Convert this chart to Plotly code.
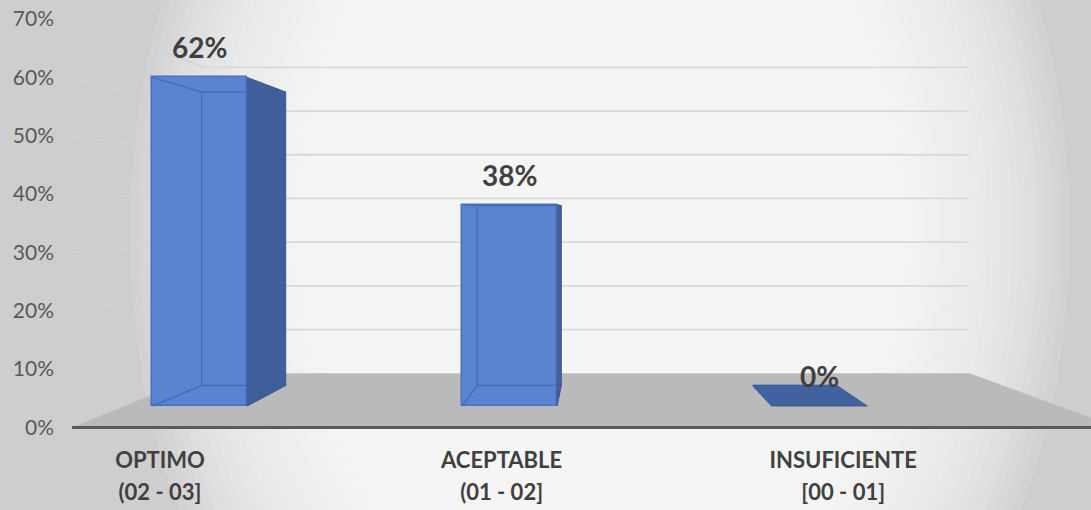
import plotly.graph_objects as go

# ---------------- data ----------------
CATEGORY_NAMES = ["OPTIMO", "ACEPTABLE", "INSUFICIENTE"]
CATEGORY_RANGES = ["(02 - 03]", "(01 - 02]", "[00 - 01]"]
VALUES = [0.62, 0.38, 0.00]
Y_TICKS = [0.0, 0.1, 0.2, 0.3, 0.4, 0.5, 0.6, 0.7]

# ---------------- layout / perspective constants (pixels) ----------------
W, H = 1091, 510
EDGE = dict(y0=427.5, s=583.6, xl=72.0, xr=1118.0)      # floor front edge plane (tick plane)
WALL = dict(y0=373.3, s=437.1, xl=205.0, xr=969.3)      # back wall plane
BF = dict(y0=406.0, s=530.0, c0=199.7, dc=310.0, hw=47.5)  # bar front faces
BB = dict(y0=385.5, s=473.4, c0=243.7, dc=275.6, hw=42.0)  # bar back faces
LBL = dict(c0=160.0, dc=341.6)                            # category labels on front edge

FONT = "Lato"
TXT = "#404040"
FRONT_COL = "#5b83d0"
SIDE_COL = "#3f5f9b"
EDGE_COL = "rgba(62,104,190,0.85)"


def xd(px):
    return (px - BF["c0"]) / BF["dc"]


def yd(py):
    return (BF["y0"] - py) / BF["s"]


def corner(plane, i, side, v):
    return (plane["c0"] + plane["dc"] * i + side * plane["hw"], plane["y0"] - plane["s"] * v)


def path(points):
    return "M " + " L ".join(f"{xd(x):.5f},{yd(y):.5f}" for x, y in points) + " Z"


def line(p, q, color, width, layer="above"):
    return dict(type="line", xref="x", yref="y", x0=xd(p[0]), y0=yd(p[1]),
                x1=xd(q[0]), y1=yd(q[1]), line=dict(color=color, width=width), layer=layer)


shapes = []

# background radial-ish gradient (stacked translucent ellipses)
CX, CY = 600.0, 230.0
N = 40
for k in range(N):
    rx = 470.0 - (470.0 - 150.0) * k / (N - 1)
    ry = rx * 1.35
    shapes.append(dict(type="circle", xref="paper", yref="paper",
                       x0=(CX - rx) / W, x1=(CX + rx) / W,
                       y0=1 - (CY + ry) / H, y1=1 - (CY - ry) / H,
                       fillcolor="rgba(255,255,255,0.085)", line=dict(width=0), layer="below"))

# floor
floor_pts = [(EDGE["xl"], EDGE["y0"]), (EDGE["xr"], EDGE["y0"]),
             (WALL["xr"], WALL["y0"]), (WALL["xl"], WALL["y0"])]
shapes.append(dict(type="path", xref="x", yref="y", path=path(floor_pts),
                   fillcolor="#bababa", line=dict(width=0), layer="below"))

# wall gridlines
for v in Y_TICKS[1:]:
    a = (EDGE["xl"], EDGE["y0"] - EDGE["s"] * v)
    b = (WALL["xl"], WALL["y0"] - WALL["s"] * v)
    c = (WALL["xr"], WALL["y0"] - WALL["s"] * v)
    shapes.append(line(a, b, "#d2d2d2", 1.5, "below"))
    shapes.append(line(b, c, "#d9d9d9", 1.8, "below"))

# floor front edge
shapes.append(line((EDGE["xl"], EDGE["y0"]), (EDGE["xr"], EDGE["y0"]), "#5a5a5a", 3, "below"))

# 3D parts of bars
for i, v in enumerate(VALUES):
    FLB, FRB = corner(BF, i, -1, 0), corner(BF, i, 1, 0)
    FLT, FRT = corner(BF, i, -1, v), corner(BF, i, 1, v)
    BLB, BRB = corner(BB, i, -1, 0), corner(BB, i, 1, 0)
    BLT, BRT = corner(BB, i, -1, v), corner(BB, i, 1, v)
    # hidden (see-through) edges
    for p, q in [(BLB, BLT), (BLB, BRB), (FLB, BLB), (BLT, BRT), (FLT, BLT)]:
        shapes.append(line(p, q, EDGE_COL, 1.4))
    # right side face
    if BRB[0] > FRB[0]:
        shapes.append(dict(type="path", xref="x", yref="y", path=path([FRB, FRT, BRT, BRB]),
                           fillcolor=SIDE_COL, line=dict(color="#3a5996", width=1), layer="above"))
    # top face (only when seen from above)
    if BLT[1] < FLT[1]:
        shapes.append(dict(type="path", xref="x", yref="y", path=path([FLT, FRT, BRT, BLT]),
                           fillcolor="#41619f", line=dict(color="#3d5d9a", width=1), layer="above"))

fig = go.Figure()

# front faces of the bars
fig.add_trace(go.Bar(
    x=CATEGORY_NAMES, y=VALUES, width=2 * BF["hw"] / BF["dc"],
    marker=dict(color=FRONT_COL, line=dict(color="#4672c4", width=1.5)),
    hoverinfo="skip", showlegend=False,
))

# same data on the front-edge plane (carries the tick axes)
fig.add_trace(go.Scatter(
    x=CATEGORY_NAMES, y=VALUES, xaxis="x2", yaxis="y2", mode="markers",
    marker=dict(opacity=0), hoverinfo="skip", showlegend=False,
))
fig.add_trace(go.Scatter(
    x=CATEGORY_RANGES, y=VALUES, xaxis="x3", yaxis="y2", mode="markers",
    marker=dict(opacity=0), hoverinfo="skip", showlegend=False,
))

annotations = []
for name, v in zip(CATEGORY_NAMES, VALUES):
    annotations.append(dict(x=name, y=v, xref="x", yref="y", text=f"{round(v * 100)}%",
                            showarrow=False, yshift=30, yanchor="middle",
                            font=dict(family=FONT, size=28, color=TXT, weight="bold")))

LBL_RANGE = [(0 - LBL["c0"]) / LBL["dc"], (W - LBL["c0"]) / LBL["dc"]]
cat_axis = dict(type="category", overlaying="x", anchor="free", position=1 - EDGE["y0"] / H,
                side="bottom", range=LBL_RANGE, showgrid=False, showline=False,
                zeroline=False, ticks="",
                tickfont=dict(family=FONT, size=22, color=TXT, weight="bold"))

fig.update_layout(
    width=W, height=H,
    margin=dict(l=0, r=0, t=0, b=0),
    paper_bgcolor="#cecece",
    plot_bgcolor="rgba(0,0,0,0)",
    showlegend=False,
    hovermode=False,
    bargap=0,
    shapes=shapes,
    annotations=annotations,
    xaxis=dict(type="category", range=[xd(0), xd(W)], visible=False),
    yaxis=dict(range=[yd(H), yd(0)], visible=False),
    xaxis2=dict(cat_axis, ticklabelstandoff=17),
    xaxis3=dict(cat_axis, ticklabelstandoff=49),
    yaxis2=dict(overlaying="y", anchor="free", position=54 / W, side="left",
                range=[-(H - EDGE["y0"]) / EDGE["s"], EDGE["y0"] / EDGE["s"]],
                tickmode="array", tickvals=Y_TICKS, tickformat=".0%",
                showgrid=False, showline=False, zeroline=False, ticks="",
                tickfont=dict(family=FONT, size=21, color="#595959")),
)

fig.write_html("out.html", config={"displayModeBar": False},
               post_script="document.body.style.margin='0px';")
